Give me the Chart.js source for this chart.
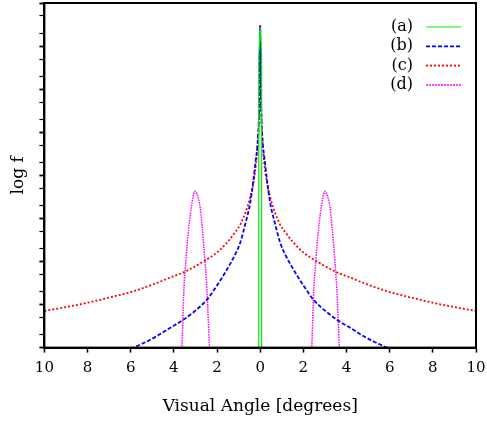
<!DOCTYPE html>
<html>
<head>
<meta charset="utf-8">
<script src="https://cdn.jsdelivr.net/npm/chart.js@4/dist/chart.umd.min.js"></script>
<style>
  html, body { margin: 0; padding: 0; background: #fff; }
  #wrap { width: 487px; height: 424px; }
</style>
</head>
<body>
<div id="wrap"><canvas id="chart"></canvas></div>
<script>
// Data (y in arbitrary log units, axis runs 1 .. 1e8)
const labels = ['(a)', '(b)', '(c)', '(d)'];

const xA = [-0.068, -0.068, 0, 0.068, 0.068];
const yA = [0.5, 6.3e6, 2.75e7, 6.3e6, 0.5];

const xB = [-6.5, -5.87, -5.3, -4.78, -4.2, -3.55, -3, -2.47, -2.1, -1.8, -1.5, -1.2, -0.93, -0.7, -0.45, -0.23, -0.1, -0.05, -0.03, -0.015, 0,
            0.015, 0.03, 0.05, 0.1, 0.23, 0.45, 0.7, 0.93, 1.2, 1.5, 1.8, 2.1, 2.47, 3, 3.55, 4.2, 4.78, 5.3, 5.87, 6.5];
const yB = [0.71, 1.0, 1.35, 1.86, 2.82, 4.47, 7.24, 12.9, 23.4, 39.8, 70.8, 132, 269, 708, 2510, 1.78e4, 7.94e4, 3.16e5, 1.0e6, 5.0e6, 2.82e7,
            5.0e6, 1.0e6, 3.16e5, 7.94e4, 1.78e4, 2510, 708, 269, 132, 70.8, 39.8, 23.4, 12.9, 7.24, 4.47, 2.82, 1.86, 1.35, 1.0, 0.71];

const xC = [-10, -9, -8, -7, -6, -5, -4.2, -3.5, -2.6, -2, -1.5, -1.16, -0.9, -0.46, -0.23, -0.15, -0.08, -0.05, -0.03, -0.015, 0,
            0.015, 0.03, 0.05, 0.08, 0.15, 0.23, 0.46, 0.9, 1.16, 1.5, 2, 2.6, 3.5, 4.2, 5, 6, 7, 8, 9, 10];
const yC = [7.1, 8.7, 11.0, 14.5, 19.5, 28.8, 41.7, 57.5, 102, 162, 288, 479, 759, 3160, 1.26e4, 3.16e4, 1.0e5, 2.82e5, 7.94e5, 3.98e6, 3.16e7,
            3.98e6, 7.94e5, 2.82e5, 1.0e5, 3.16e4, 1.26e4, 3160, 759, 479, 288, 162, 102, 57.5, 41.7, 28.8, 19.5, 14.5, 11.0, 8.7, 7.1];

const xD = [-3.72, -3.63, -3.54, -3.44, -3.32, -3.16, -3.08, -3.01, -2.94, -2.86, -2.78, -2.63, -2.47, -2.35, -2.27, 0,
            2.3, 2.39, 2.48, 2.58, 2.7, 2.86, 2.94, 3.01, 3.08, 3.16, 3.24, 3.39, 3.55, 3.67, 3.75];
const yD = [0.25, 1, 20, 110, 550, 2290, 3700, 4270, 3750, 2820, 1780, 282, 22.4, 1, 0.16, null,
            0.25, 1, 20, 110, 550, 2290, 3700, 4270, 3750, 2820, 1780, 282, 22.4, 1, 0.16];

const xTickValues = [-10, -8, -6, -4, -2, 0, 2, 4, 6, 8, 10];
const xTickLabels = ['10', '8', '6', '4', '2', '0', '2', '4', '6', '8', '10'];
const yMajorTicks = [1, 10, 100, 1e3, 1e4, 1e5, 1e6, 1e7, 1e8];
const yMinorTicks = [2, 5, 20, 50, 200, 500, 2e3, 5e3, 2e4, 5e4, 2e5, 5e5, 2e6, 5e6, 2e7, 5e7];

function pts(xs, ys) {
    return xs.map((x, i) => ({ x: x, y: ys[i] }));
}

const serif = "'DejaVu Serif', 'Liberation Serif', serif";

// rahmen rund um die plotflaeche
const frame = {
    id: 'frame',
    afterDraw(chart) {
        const a = chart.chartArea;
        const ctx = chart.ctx;
        ctx.save();
        ctx.strokeStyle = '#000';
        ctx.lineWidth = 2;
        ctx.strokeRect(a.left, a.top, a.right - a.left, a.bottom - a.top);
        ctx.restore();
    }
};

// legende oben rechts im plot, text links, linie rechts
const insetLegend = {
    id: 'insetLegend',
    afterDraw(chart) {
        const a = chart.chartArea;
        const ctx = chart.ctx;
        ctx.save();
        ctx.font = '16px ' + serif;
        ctx.textAlign = 'right';
        ctx.textBaseline = 'middle';
        chart.data.datasets.forEach((ds, i) => {
            const y = a.top + 24 + i * 19.3;
            ctx.fillStyle = '#000';
            ctx.fillText(ds.label, a.right - 63, y);
            ctx.strokeStyle = ds.borderColor;
            ctx.lineWidth = ds.borderWidth;
            ctx.setLineDash(ds.legendDash || ds.borderDash || []);
            ctx.beginPath();
            ctx.moveTo(a.right - 50, y);
            ctx.lineTo(a.right - 15, y);
            ctx.stroke();
        });
        ctx.restore();
    }
};

const ctx = document.getElementById('chart').getContext('2d');
new Chart(ctx, {
    type: 'line',
    data: {
        datasets: [
            { label: labels[0], data: pts(xA, yA), borderColor: '#00ee00', borderWidth: 1.2 },
            { label: labels[1], data: pts(xB, yB), borderColor: '#0000ff', borderWidth: 1.8, borderDash: [4, 2] },
            { label: labels[2], data: pts(xC, yC), borderColor: '#ff0000', borderWidth: 1.8, borderDash: [2, 2] },
            { label: labels[3], data: pts(xD, yD), borderColor: '#ff00ff', borderWidth: 1.5, borderDash: [1.5, 1], legendDash: [2, 1] }
        ]
    },
    options: {
        responsive: true,
        maintainAspectRatio: false,
        animation: false,
        spanGaps: false,
        elements: { point: { radius: 0 }, line: { tension: 0.3, cubicInterpolationMode: 'monotone' } },
        layout: { padding: { left: 4, right: 11, top: 3, bottom: 0 } },
        plugins: { legend: { display: false }, tooltip: { enabled: false } },
        scales: {
            x: {
                type: 'linear',
                min: -10,
                max: 10,
                afterBuildTicks: scale => { scale.ticks = xTickValues.map(v => ({ value: v })); },
                // randlabels duerfen ueberstehen, plotflaeche bleibt breit
                afterFit: scale => { scale.paddingLeft = 0; scale.paddingRight = 0; },
                ticks: {
                    color: '#000',
                    font: { family: serif, size: 15 },
                    padding: 7,
                    maxRotation: 0,
                    callback: (val, idx) => xTickLabels[idx]
                },
                grid: { drawOnChartArea: false, tickLength: 5, color: '#000', tickWidth: 1.5 },
                border: { color: '#000', width: 2 },
                title: {
                    display: true,
                    text: 'Visual Angle [degrees]',
                    color: '#000',
                    font: { family: serif, size: 17 },
                    padding: { top: 12, bottom: 7 }
                }
            },
            y: {
                type: 'logarithmic',
                min: 1,
                max: 1e8,
                afterBuildTicks: scale => {
                    scale.ticks = yMajorTicks.concat(yMinorTicks).sort((p, q) => p - q).map(v => ({ value: v }));
                },
                ticks: { display: false },
                grid: {
                    drawOnChartArea: false,
                    tickLength: 5,
                    color: '#000',
                    tickWidth: c => (c.tick && yMajorTicks.includes(c.tick.value)) ? 1.8 : 1.2
                },
                border: { color: '#000', width: 2 },
                title: {
                    display: true,
                    text: 'log f',
                    color: '#000',
                    font: { family: serif, size: 17 },
                    padding: { top: 4, bottom: 11 }
                }
            }
        }
    },
    plugins: [frame, insetLegend]
});
</script>
</body>
</html>
